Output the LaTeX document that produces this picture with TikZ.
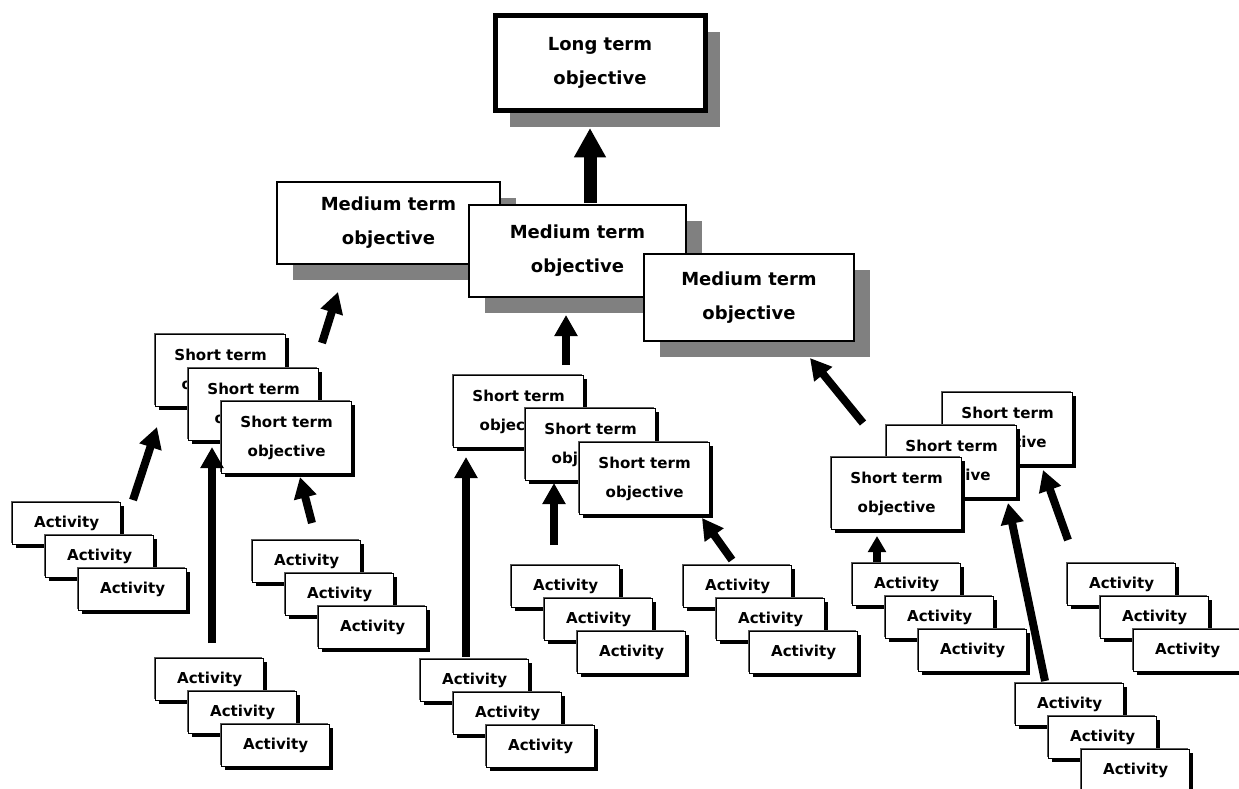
\documentclass[tikz,border=0pt]{standalone}
\usepackage{fontspec}
\setmainfont{DejaVu Sans}
\usetikzlibrary{shadows,arrows.meta}
\definecolor{shgray}{RGB}{128,128,128}
\definecolor{edgegray}{RGB}{90,90,90}
\tikzset{
  smallbox/.style={draw=black, line width=0.9pt, fill=white, anchor=north west, inner sep=0pt, align=center,
    general shadow={fill=edgegray, shadow xshift=-1.5pt, shadow yshift=1.5pt},
    general shadow={fill=black, shadow xshift=2.25pt, shadow yshift=-2.25pt}},
  actbox/.style={smallbox, minimum width=81pt, minimum height=31.5pt, font=\fontsize{11.3}{13}\selectfont\bfseries},
  stbox/.style={smallbox, minimum width=97.5pt, minimum height=54pt, font=\fontsize{11.3}{21.5}\selectfont\bfseries},
  medbox/.style={draw=black, line width=1.5pt, fill=white, anchor=north west, inner sep=0pt, align=center,
    font=\fontsize{13.5}{25.5}\selectfont\bfseries,
    general shadow={fill=shgray, shadow xshift=12pt, shadow yshift=-12pt}},
  longbox/.style={draw=black, line width=3.75pt, fill=white, anchor=north west, inner sep=0pt, align=center,
    font=\fontsize{13.5}{25.5}\selectfont\bfseries,
    general shadow={fill=shgray, shadow xshift=11.25pt, shadow yshift=-12.75pt}},
  arr/.style={line width=6pt, -{Triangle[width=16.5pt,length=15.75pt]}},
  smallarr/.style={line width=6pt, -{Triangle[width=13pt,length=12pt]}},
  bigarr/.style={line width=9.75pt, -{Triangle[width=22.5pt,length=22pt]}}
}
\begin{document}
\begin{tikzpicture}[x=0.75pt,y=-0.75pt]
\useasboundingbox (0,0) rectangle (1239,789);

% long term
\node[longbox, minimum width=157.5pt, minimum height=71.25pt] (L) at (492.5,12.5) {Long term\\objective};

% medium term
\node[medbox, minimum width=167.25pt, minimum height=61.5pt] (M1) at (276,181) {Medium term\\objective};
\node[medbox, minimum width=162.75pt, minimum height=69pt] (M2) at (468,204) {Medium term\\objective};
\node[medbox, minimum width=157.5pt, minimum height=65.25pt] (M3) at (643,253) {Medium term\\objective};

% short term group 1
\node[stbox] (S1a) at (155,334) {Short term\\objective};
\node[stbox] (S1b) at (188,368) {Short term\\objective};
\node[stbox] (S1c) at (221,401) {Short term\\objective};
% short term group 2
\node[stbox] (S2a) at (453,375) {Short term\\objective};
\node[stbox] (S2b) at (525,408) {Short term\\objective};
\node[stbox] (S2c) at (579,442) {Short term\\objective};
% short term group 3
\node[stbox] (S3a) at (942,392) {Short term\\objective};
\node[stbox] (S3b) at (886,425) {Short term\\objective};
\node[stbox] (S3c) at (831,457) {Short term\\objective};

% activities
\foreach \n/\x/\y in {A1/12/502, A2/252/540, A3/155/658, A4/420/659, A5/511/565, A6/683/565, A7/852/563, A8/1067/563, A9/1015/683}{
  \node[actbox] (\n a) at (\x,\y) {Activity};
  \node[actbox] (\n b) at (\x+33,\y+33) {Activity};
  \node[actbox] (\n c) at (\x+66,\y+66) {Activity};
}

% arrow end points
\coordinate (e0s) at (590,203);  \coordinate (e0t) at (590,128);
\coordinate (e1s) at (322,343);  \coordinate (e1t) at (338,292);
\coordinate (e2s) at (566,365);  \coordinate (e2t) at (566,315);
\coordinate (e3s) at (863,423);  \coordinate (e3t) at (810,358);
\coordinate (e4s) at (133,500);  \coordinate (e4t) at (157,427);
\coordinate (e5s) at (212,643);  \coordinate (e5t) at (212,447);
\coordinate (e6s) at (312,523);  \coordinate (e6t) at (300,477);
\coordinate (e7s) at (466,657);  \coordinate (e7t) at (466,457);
\coordinate (e8s) at (554,545);  \coordinate (e8t) at (554,483);
\coordinate (e9s) at (732,560);  \coordinate (e9t) at (702,518);
\coordinate (e10s) at (877,562); \coordinate (e10t) at (877,536);
\coordinate (e11s) at (1045,681); \coordinate (e11t) at (1008,503);
\coordinate (e12s) at (1068,540); \coordinate (e12t) at (1043,470);

\draw[bigarr] (e0s) -- (e0t);
\foreach \i in {1,...,9,11,12}{
  \draw[arr] (e\i s) -- (e\i t);
}
\draw[smallarr] (e10s) -- (e10t);
\end{tikzpicture}
\end{document}
